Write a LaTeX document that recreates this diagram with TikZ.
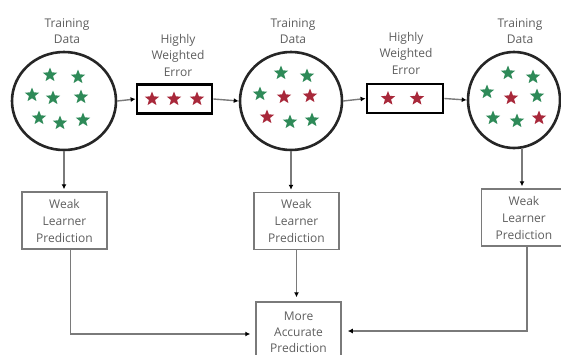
\documentclass[tikz,border=0pt]{standalone}
\usepackage{fontspec}
\newfontfamily\osf{Open Sans}
\usetikzlibrary{shapes.geometric,arrows.meta}
\definecolor{sgreen}{HTML}{2E8A58}
\definecolor{sred}{HTML}{A8283A}
\definecolor{txtgray}{HTML}{5E5E5E}
\definecolor{linegray}{HTML}{7A7A7A}
\tikzset{
  lbl/.style={font=\osf\fontsize{12}{16.5}\selectfont, text=txtgray, align=center, inner sep=0},
  datacirc/.style={draw=black!85, line width=2.6pt, ellipse, inner sep=0},
  errbox/.style={draw=black, line width=2.8pt, inner sep=0, minimum width=73pt, minimum height=28pt},
  predbox/.style={draw=linegray, line width=1.5pt, inner sep=0, minimum width=85pt, minimum height=57pt,
     font=\osf\fontsize{12}{17}\selectfont, text=txtgray, align=center},
  gstar/.style={star, star points=5, star point ratio=2.3, fill=sgreen, minimum size=15pt, inner sep=0},
  rstar/.style={star, star points=5, star point ratio=2.3, fill=sred, minimum size=15pt, inner sep=0},
  conn/.style={draw=linegray, line width=1.4pt, -{Latex[length=5pt,width=5pt,black]}},
}
\begin{document}
\begin{tikzpicture}[x=1pt,y=-1pt]
\useasboundingbox (0,0) rectangle (561,354);
\clip (0,0) rectangle (561,354);
% data circles
\node[datacirc, minimum width=104pt, minimum height=98pt] (c1) at (64,101) {};
\node[datacirc, minimum width=102pt, minimum height=98pt] (c2) at (291,101) {};
\node[datacirc, minimum width=92pt, minimum height=96pt] (c3) at (514,100) {};
% labels
\node[lbl] (t1) at (67,31) {Training\\Data};
\node[lbl] (t2) at (293,31) {Training\\Data};
\node[lbl] (t3) at (520,31) {Training\\Data};
\node[lbl] (h1) at (178,55) {Highly\\Weighted\\Error};
\node[lbl] (h2) at (406,53) {Highly\\Weighted\\Error};
% error boxes
\node[errbox, minimum width=75pt, minimum height=29pt] (e1) at (174.5,99) {};
\node[errbox, minimum width=76pt, minimum height=29pt] (e2) at (405,98.5) {};
% stars circle 1
\foreach \x/\y [count=\i] in {50/75, 78/77, 32/95, 53/98, 81/97, 39/118, 60/123, 83/120}
  \node[gstar] (sa\i) at (\x,\y) {};
% stars circle 2
\foreach \x/\y [count=\i] in {281/73, 307/76, 260/94, 290/122, 312/120}
  \node[gstar] (sb\i) at (\x,\y) {};
\foreach \x/\y [count=\i] in {284/97, 310/96, 267/117}
  \node[rstar] (rb\i) at (\x,\y) {};
% stars circle 3
\foreach \x/\y [count=\i] in {508/73, 533/77, 487/92, 537/96, 493/118, 517/121}
  \node[gstar] (sc\i) at (\x,\y) {};
\foreach \x/\y [count=\i] in {511/98, 539/118}
  \node[rstar] (rc\i) at (\x,\y) {};
% stars in error boxes
\foreach \x [count=\i] in {152,174,197}
  \node[rstar] (re\i) at (\x,99) {};
\foreach \x [count=\i] in {388,417}
  \node[rstar] (rf\i) at (\x,98.5) {};
% prediction boxes
\node[predbox] (w1) at (64.5,220.5) {Weak\\Learner\\Prediction};
\node[predbox] (w2) at (296.5,221) {Weak\\Learner\\Prediction};
\node[predbox] (w3) at (524,217.5) {Weak\\Learner\\Prediction};
\node[predbox, minimum height=62pt, font=\osf\fontsize{12}{16.5}\selectfont] (m) at (298.5,333) {\raisebox{2.5pt}{\begin{tabular}{@{}c@{}}More\\[-0.5pt]Accurate\\[-0.5pt]Prediction\end{tabular}}};
% connectors along the top
\draw[conn] (c1.east) -- (e1.west);
\draw[conn] (e1.east) -- (c2.west);
\draw[conn] (c2.east) -- (e2.west);
\draw[conn] (e2.east) -- (c3.west);
% down to weak learners
\draw[conn, shorten >=2pt] (c1.south) -- (c1.south |- w1.north);
\draw[conn, shorten >=2pt] (c2.south) -- (c2.south |- w2.north);
\coordinate (d3) at ([xshift=8pt]c3.south);
\draw[conn, shorten >=2pt] (d3) -- (d3 |- w3.north);
% to the final prediction
\coordinate (b1) at ([xshift=6pt]w1.south);
\coordinate (b3) at ([xshift=3pt]w3.south);
\draw[conn, shorten >=5pt] (b1) |- ([yshift=-1pt]m.west);
\draw[conn, shorten >=4pt] (w2.south) -- (w2.south |- m.north);
\draw[conn, shorten >=6pt] (b3) |- ([yshift=2pt]m.east);
\end{tikzpicture}
\end{document}
